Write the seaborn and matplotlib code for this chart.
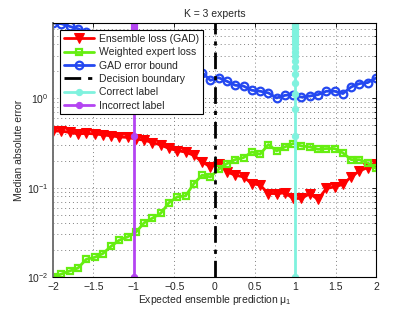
import numpy as np
import pandas as pd
import matplotlib
matplotlib.use("Agg")
import matplotlib.pyplot as plt
import seaborn as sns

# Datos (40 puntos de -2 a 2)
mu = np.linspace(-2, 2, 40)

ensemble_loss = [0.43, 0.43, 0.415, 0.40, 0.405, 0.40, 0.39, 0.38, 0.37, 0.365,
                 0.35, 0.34, 0.32, 0.30, 0.275, 0.26, 0.25, 0.23, 0.194, 0.171,
                 0.186, 0.150, 0.138, 0.132, 0.111, 0.107, 0.086, 0.086, 0.0875, 0.0757,
                 0.0757, 0.086, 0.0738, 0.098, 0.102, 0.109, 0.132, 0.154, 0.168, 0.186]

weighted_loss = [0.0101, 0.0108, 0.0117, 0.0126, 0.0158, 0.0166, 0.0183, 0.0221, 0.0259, 0.0282,
                 0.0318, 0.0405, 0.0456, 0.0518, 0.068, 0.079, 0.081, 0.111, 0.138, 0.132,
                 0.161, 0.186, 0.206, 0.217, 0.251, 0.237, 0.304, 0.258, 0.286, 0.312,
                 0.293, 0.286, 0.269, 0.274, 0.274, 0.245, 0.206, 0.206, 0.189, 0.164]

gad_bound = [6.95, 6.84, 6.37, 6.0, 5.5, 5.0, 4.6, 4.2, 3.9, 3.6,
             3.3, 3.0, 2.8, 2.6, 2.4, 2.25, 2.1, 2.0, 1.94, 1.59,
             1.70, 1.55, 1.40, 1.37, 1.23, 1.20, 1.15, 1.01, 1.08, 1.10,
             1.03, 1.06, 1.10, 1.20, 1.20, 1.13, 1.34, 1.46, 1.50, 1.69]

# Líneas verticales de etiquetas
label_y = [0.01, 0.38, 0.75, 1.11, 1.48, 1.85, 2.22, 2.59, 2.95, 3.32,
           3.69, 4.06, 4.43, 4.79, 5.16, 5.53, 5.90, 6.27, 6.63, 7.0]
correct_x = 1
incorrect_x = -1
boundary_x = 0
boundary_y = [0.01, 7.0]

sns.set_style("white")
plt.rcParams['font.family'] = ['Liberation Sans', 'DejaVu Sans']
plt.rcParams['mathtext.fontset'] = 'custom'
plt.rcParams['mathtext.rm'] = 'Liberation Sans'
plt.rcParams['mathtext.it'] = 'Liberation Sans'

fig = plt.figure(figsize=(4.15, 3.12), dpi=100)
ax = fig.add_axes([0.128, 0.112, 0.778, 0.815])

df = pd.DataFrame({'mu': mu, 'ens': ensemble_loss, 'wgt': weighted_loss, 'gad': gad_bound})

sns.lineplot(data=df, x='mu', y='ens', ax=ax, estimator=None, color='#ff0000', lw=2,
             marker='v', markersize=6.5, markerfacecolor='#ff0000', markeredgecolor='#ff0000',
             label='Ensemble loss (GAD)')
sns.lineplot(data=df, x='mu', y='wgt', ax=ax, estimator=None, color='#66ee11', lw=2,
             marker='s', markersize=5, markerfacecolor='none', markeredgecolor='#66ee11',
             markeredgewidth=1.6, label='Weighted expert loss')
sns.lineplot(data=df, x='mu', y='gad', ax=ax, estimator=None, color='#2448f0', lw=2,
             marker='o', markersize=5.5, markerfacecolor='none', markeredgecolor='#2448f0',
             markeredgewidth=1.6, label='GAD error bound')
sns.lineplot(x=[boundary_x] * len(boundary_y), y=boundary_y, ax=ax, estimator=None, sort=False,
             color='black', lw=2, linestyle=(0, (6, 2.5, 1.5, 2.5)), label='Decision boundary')
sns.lineplot(x=[correct_x] * len(label_y), y=label_y, ax=ax, estimator=None, sort=False,
             color='#7ff2de', lw=2, marker='o', markersize=4.5, markeredgecolor='#7ff2de',
             label='Correct label')
sns.lineplot(x=[incorrect_x] * len(label_y), y=label_y, ax=ax, estimator=None, sort=False,
             color='#b444f2', lw=2, marker='o', markersize=4.5, markeredgecolor='#b444f2',
             label='Incorrect label')

ax.set_yscale('log')
ax.set_xlim(-2, 2)
ax.set_ylim(0.01, 7.0)
ax.set_xticks([-2, -1.5, -1, -0.5, 0, 0.5, 1, 1.5, 2])
ax.set_xticklabels(['\u22122', '\u22121.5', '\u22121', '\u22120.5', '0', '0.5', '1', '1.5', '2'])

ax.grid(True, which='major', axis='both', linestyle=(0, (1, 3)), color='0.5', lw=0.7)
ax.grid(True, which='minor', axis='y', linestyle=(0, (1, 3)), color='0.5', lw=0.7)
ax.tick_params(axis='both', which='both', direction='in', top=True, right=True,
               labelsize=7.5, length=3, width=0.6, color='black')
ax.tick_params(axis='both', which='minor', length=1.8)
for sp in ax.spines.values():
    sp.set_color('black')
    sp.set_linewidth(0.8)
ax.spines['left'].set_color('0.45')
ax.spines['left'].set_linewidth(1.4)

ax.set_title('K = 3 experts', fontsize=7.5, pad=4)
ax.set_xlabel('Expected ensemble prediction $\\mu_1$', fontsize=7.5, labelpad=1)
ax.set_ylabel('Median absolute error', fontsize=7.5, labelpad=2)

leg = ax.legend(loc='upper left', bbox_to_anchor=(0.022, 0.97), borderaxespad=0,
                fontsize=7.5, frameon=True, fancybox=False, framealpha=1,
                edgecolor='black', handlelength=2.9, labelspacing=0.32,
                borderpad=0.35, handletextpad=0.5)
leg.get_frame().set_linewidth(0.8)

fig.savefig('out.png', dpi=100)
